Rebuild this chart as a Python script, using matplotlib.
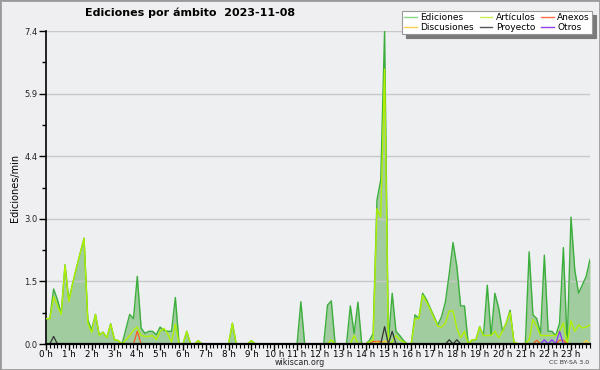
import matplotlib
matplotlib.use('Agg')
import matplotlib.pyplot as plt
from matplotlib.lines import Line2D
from matplotlib.patches import Rectangle
import numpy as np

# Datos: ediciones/min por intervalo de 10 minutos (144 puntos, 0 h - 23 h 50)
ediciones = [
    0.6, 0.6, 1.3, 1.05, 0.72, 1.87,     # 0 h
    1.05, 1.43, 1.8, 2.15, 2.5, 0.57,    # 1 h
    0.33, 0.7, 0.22, 0.28, 0.15, 0.48,   # 2 h
    0.1, 0.08, 0.0, 0.35, 0.7, 0.6,      # 3 h
    1.6, 0.38, 0.25, 0.3, 0.3, 0.22,     # 4 h
    0.4, 0.32, 0.3, 0.3, 1.1, 0.0,       # 5 h
    0.0, 0.3, 0.0, 0.0, 0.08, 0.0,       # 6 h
    0.0, 0.0, 0.0, 0.0, 0.0, 0.0,        # 7 h
    0.0, 0.49, 0.0, 0.0, 0.0, 0.0,       # 8 h
    0.08, 0.0, 0.0, 0.0, 0.0, 0.0,       # 9 h
    0.0, 0.0, 0.0, 0.0, 0.0, 0.0,        # 10 h
    0.0, 1.0, 0.0, 0.0, 0.0, 0.0,        # 11 h
    0.0, 0.0, 0.92, 1.02, 0.0, 0.0,      # 12 h
    0.0, 0.0, 0.9, 0.25, 0.99, 0.0,      # 13 h
    0.0, 0.08, 0.25, 3.4, 3.88, 7.4,     # 14 h
    0.05, 1.2, 0.3, 0.2, 0.08, 0.0,      # 15 h
    0.0, 0.69, 0.6, 1.2, 1.05, 0.85,     # 16 h
    0.65, 0.45, 0.65, 1.0, 1.66, 2.4,    # 17 h
    1.83, 0.9, 0.9, 0.0, 0.1, 0.1,       # 18 h
    0.41, 0.2, 1.39, 0.2, 1.2, 0.85,     # 19 h
    0.3, 0.5, 0.8, 0.05, 0.0, 0.0,       # 20 h
    0.0, 2.18, 0.69, 0.6, 0.25, 2.1,     # 21 h
    0.3, 0.3, 0.2, 0.49, 2.28, 0.0,      # 22 h
    3.0, 1.75, 1.2, 1.4, 1.6, 2.0,       # 23 h
]
articulos = [
    0.6, 0.6, 1.12, 0.9, 0.7, 1.87,
    1.0, 1.43, 1.8, 2.15, 2.5, 0.5,
    0.27, 0.7, 0.2, 0.28, 0.15, 0.47,
    0.1, 0.08, 0.0, 0.1, 0.2, 0.33,
    0.4, 0.2, 0.18, 0.18, 0.2, 0.1,
    0.3, 0.37, 0.24, 0.05, 0.47, 0.0,
    0.0, 0.3, 0.0, 0.0, 0.08, 0.0,
    0.0, 0.0, 0.0, 0.0, 0.0, 0.0,
    0.0, 0.49, 0.0, 0.0, 0.0, 0.0,
    0.08, 0.0, 0.0, 0.0, 0.0, 0.0,
    0.0, 0.0, 0.0, 0.0, 0.0, 0.0,
    0.0, 0.0, 0.0, 0.0, 0.0, 0.0,
    0.0, 0.0, 0.0, 0.1, 0.0, 0.0,
    0.0, 0.0, 0.0, 0.2, 0.0, 0.0,
    0.0, 0.05, 0.1, 3.2, 3.0, 6.5,
    0.0, 0.05, 0.2, 0.1, 0.05, 0.0,
    0.0, 0.6, 0.6, 1.15, 1.0, 0.82,
    0.62, 0.42, 0.4, 0.5, 0.78, 0.78,
    0.37, 0.15, 0.3, 0.0, 0.1, 0.1,
    0.4, 0.2, 0.2, 0.2, 0.3, 0.15,
    0.3, 0.5, 0.75, 0.05, 0.0, 0.0,
    0.0, 0.1, 0.58, 0.42, 0.2, 0.2,
    0.2, 0.2, 0.2, 0.3, 0.5, 0.0,
    0.55, 0.3, 0.45, 0.38, 0.4, 0.45,
]
# series pequeñas: {indice: valor}, el resto es 0
anexos_pts = {24: 0.3, 86: 0.06, 87: 0.06, 88: 0.06, 129: 0.09, 135: 0.09, 136: 0.09}
discusiones_pts = {87: 0.05, 89: 0.08, 142: 0.08}
proyecto_pts = {2: 0.18, 89: 0.41, 91: 0.3, 106: 0.1, 108: 0.1}
otros_pts = {131: 0.1, 133: 0.1, 135: 0.3}

horas = [f'{h} h' for h in range(24)]
yticks = [0, 1.48, 2.96, 4.44, 5.92, 7.4]


def serie(pts):
    v = np.zeros(len(ediciones))
    for k, val in pts.items():
        v[k] = val
    return v


t = np.arange(len(ediciones)) / 6.0

fig = plt.figure(figsize=(6, 3.7), dpi=100, facecolor='#efeff1')
ax = fig.add_axes([46/600, 1 - 344/370, 544/600, 313/370])
ax.set_facecolor('#eeeff1')

# Área y líneas
ax.fill_between(t, ediciones, 0, color='#a0cca0', lw=0, zorder=1)
ax.plot(t, ediciones, color='#3cae3c', lw=1.0, zorder=3)
ax.plot(t, articulos, color='#b0f000', lw=1.0, zorder=4)
ax.plot(t, serie(anexos_pts), color='#ff5a1e', lw=0.9, zorder=5)
ax.plot(t, serie(discusiones_pts), color='#ffcc33', lw=0.9, zorder=5)
ax.plot(t, serie(proyecto_pts), color='#333333', lw=0.9, zorder=5)
ax.plot(t, serie(otros_pts), color='#8833ff', lw=0.9, zorder=5)

ax.set_xlim(0, t[-1])
ax.set_ylim(0, 7.4)

ax.set_yticks(yticks)
ax.set_yticklabels([f'{v:.1f}' for v in yticks])
ax.set_yticks([0.74, 2.22, 3.70, 5.18, 6.66], minor=True)
ax.set_xticks(range(24))
ax.set_xticklabels(horas)
ax.set_xticks(np.arange(0, 24, 1/6.0), minor=True)

ax.grid(axis='y', which='major', color='#c8c8c8', lw=1.0, zorder=0)
ax.tick_params(axis='y', which='major', length=5, width=1, labelsize=6, pad=1, colors='black', labelcolor='#222222')
ax.tick_params(axis='y', which='minor', length=3, width=1)
ax.tick_params(axis='x', which='major', length=4, width=1, labelsize=6.3, pad=0)
ax.tick_params(axis='x', which='minor', length=3, width=0.8)

for s in ['top', 'right']:
    ax.spines[s].set_visible(False)
ax.spines['left'].set_linewidth(1.2)
ax.spines['bottom'].set_linewidth(1.6)
ax.spines['bottom'].set_zorder(6)

ax.set_ylabel('Ediciones/min', fontsize=7, labelpad=3)

fig.text(85/600, 1 - 13/370, 'Ediciones por ámbito  2023-11-08', fontsize=8,
         fontweight='bold', ha='left', va='center')
fig.text(300/600, 1 - 362.5/370, 'wikiscan.org', fontsize=5.8, ha='center', va='center', color='#222222')
fig.text(589/600, 1 - 362.5/370, 'CC BY-SA 3.0', fontsize=4.5, ha='right', va='center', color='#333333')

# Leyenda
nombres = ['Ediciones', 'Discusiones', 'Artículos', 'Proyecto', 'Anexos', 'Otros']
colores = ['#88d888', '#ffd050', '#c8f050', '#555555', '#ff7040', '#9040f0']
handles = [Line2D([0], [0], color=c, lw=1.0) for c in colores]
leg = fig.legend(handles, nombres, ncol=3, loc='upper right',
                 bbox_to_anchor=(592/600, 1 - 11/370), fontsize=6.5,
                 frameon=True, fancybox=False, framealpha=1,
                 edgecolor='#999999', facecolor='white',
                 labelspacing=0.05, handlelength=1.4, handletextpad=0.4,
                 columnspacing=0.6, borderpad=0.25, borderaxespad=0,
                 shadow={'color': '#7a7a7a', 'alpha': 1, 'ox': 3, 'oy': -3})
leg.get_frame().set_linewidth(0.8)

# Marco gris del gráfico
fig.patches.append(Rectangle((0, 0), 1, 1, transform=fig.transFigure, fill=False,
                             edgecolor='#9a9a9a', lw=2))

fig.savefig('out.png', dpi=100, facecolor=fig.get_facecolor())
